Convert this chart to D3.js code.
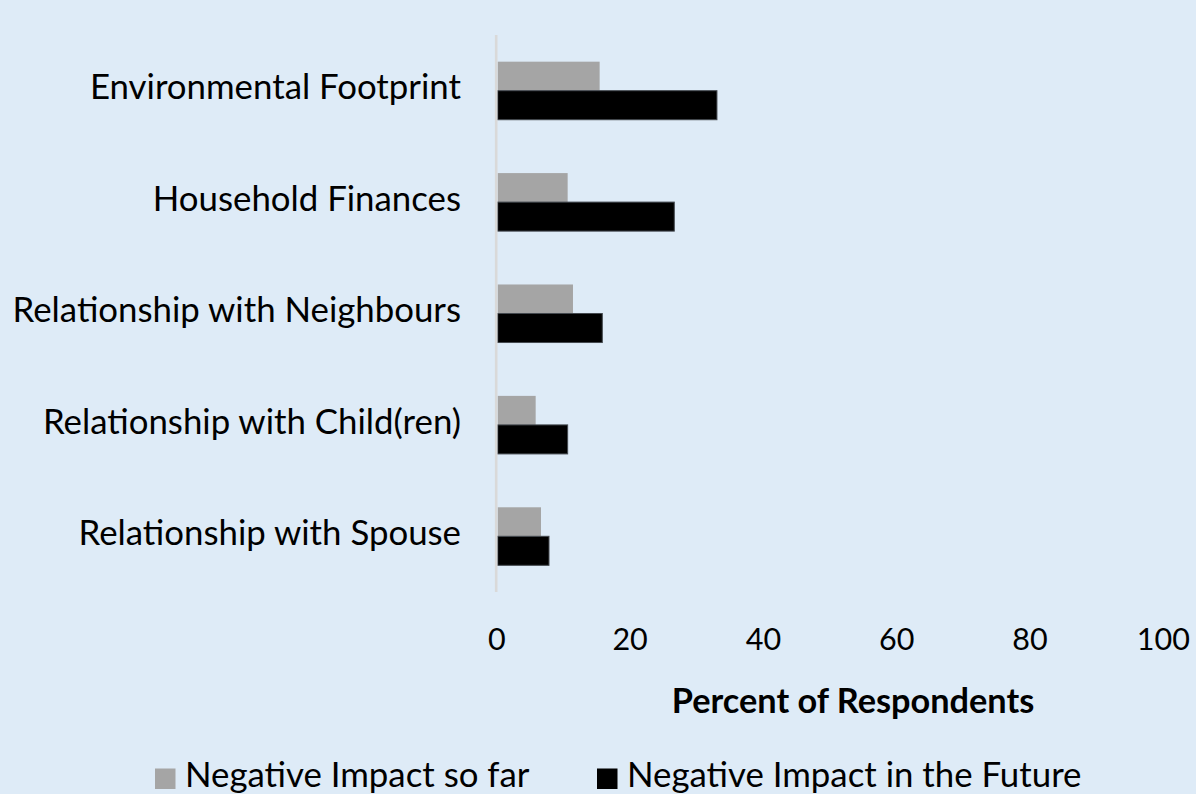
<!DOCTYPE html>
<html>
<head>
<meta charset="utf-8">
<script src="https://cdn.jsdelivr.net/npm/d3@7/dist/d3.min.js"></script>
<style>
  html, body { margin: 0; padding: 0; background: #deebf7; }
  svg { display: block; }
  text { font-family: Lato, "Open Sans", sans-serif; fill: #000; }
</style>
</head>
<body>
<svg id="chart" width="1196" height="794"></svg>
<script>
// Share of respondents reporting a negative impact, by area of life
const categories = [
  "Environmental Footprint",
  "Household Finances",
  "Relationship with Neighbours",
  "Relationship with Child(ren)",
  "Relationship with Spouse"
];
const seriesNames = ["Negative Impact so far", "Negative Impact in the Future"];
const soFar = [15.4, 10.6, 11.4, 5.8, 6.6];
const future = [33.0, 26.6, 15.8, 10.6, 7.8];
const xTicks = [0, 20, 40, 60, 80, 100];
const xTitle = "Percent of Respondents";
const colors = ["#a5a5a5", "#000000"];

const W = 1196, H = 794;
const margin = { top: 35, right: 32.5, bottom: 202, left: 497 };
const svg = d3.select("#chart");

svg.append("rect").attr("width", W).attr("height", H).attr("fill", "#deebf7");

const x = d3.scaleLinear().domain([0, 100]).range([margin.left, W - margin.right]);
const y = d3.scaleBand().domain(categories)
  .range([margin.top, H - margin.bottom])
  .paddingInner(0.479).paddingOuter(0.2395);
const ySub = d3.scaleBand().domain(seriesNames).range([0, y.bandwidth()]);

const rows = categories.map((c, i) => ({ cat: c, values: [soFar[i], future[i]] }));

// bars
const groups = svg.append("g").selectAll("g").data(rows).join("g")
  .attr("transform", d => `translate(0,${y(d.cat)})`);
groups.selectAll("rect")
  .data(d => d.values.map((v, k) => ({ name: seriesNames[k], v, k })))
  .join("rect")
  .attr("x", x(0) + 0.7)
  .attr("y", d => ySub(d.name))
  .attr("width", d => x(d.v) - x(0) - 0.7)
  .attr("height", ySub.bandwidth())
  .attr("fill", d => colors[d.k])
  .attr("stroke", d => d.k === 1 ? "#44494f" : "none")
  .attr("stroke-width", 1);

// vertical category axis line
svg.append("line")
  .attr("x1", x(0) - 0.8).attr("x2", x(0) - 0.8)
  .attr("y1", margin.top).attr("y2", H - margin.bottom)
  .attr("stroke", "#d9d9d9").attr("stroke-width", 2.6);

// category labels
svg.append("g").selectAll("text").data(categories).join("text")
  .attr("x", 461)
  .attr("y", d => y(d) + y.bandwidth() / 2)
  .attr("dy", "0.25em")
  .attr("text-anchor", "end")
  .attr("font-size", 34.8)
  .text(d => d);

// value axis (labels only)
const xAxis = d3.axisBottom(x).tickValues(xTicks).tickSize(0).tickPadding(0);
const gx = svg.append("g").attr("transform", `translate(-0.7,${H - margin.bottom})`).call(xAxis);
gx.select(".domain").remove();
gx.selectAll("text")
  .attr("font-size", 30.5)
  .attr("font-family", "Lato, sans-serif")
  .attr("fill", "#000")
  .attr("y", 58)
  .attr("dy", 0);

// axis title
svg.append("text")
  .attr("x", 853).attr("y", 712.5)
  .attr("text-anchor", "middle")
  .attr("font-size", 34.3)
  .attr("font-weight", "bold")
  .text(xTitle);

// legend
const legendItems = [
  { name: seriesNames[0], color: colors[0], x: 155 },
  { name: seriesNames[1], color: colors[1], x: 597 }
];
const lg = svg.append("g").selectAll("g").data(legendItems).join("g")
  .attr("transform", d => `translate(${d.x},0)`);
lg.append("rect").attr("x", 0).attr("y", 768.5).attr("width", 20.5).attr("height", 20.5)
  .attr("fill", d => d.color);
lg.append("text").attr("x", 30).attr("y", 786.7)
  .attr("font-size", 34.8)
  .text(d => d.name);
</script>
</body>
</html>
